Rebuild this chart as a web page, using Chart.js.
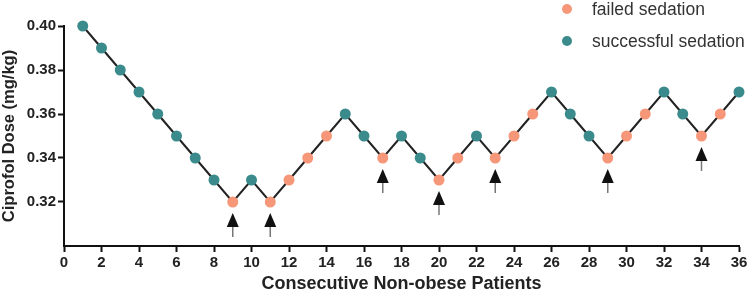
<!DOCTYPE html>
<html><head><meta charset="utf-8">
<script src="https://cdn.jsdelivr.net/npm/chart.js@4"></script>
<style>html,body{margin:0;padding:0;background:#fff}#wrap{width:750px;height:295px}</style>
</head><body><div id="wrap"><canvas id="c"></canvas></div>
<script>
const patients = [1,2,3,4,5,6,7,8,9,10,11,12,13,14,15,16,17,18,19,20,21,22,23,24,25,26,27,28,29,30,31,32,33,34,35,36];
const dose = [0.40,0.39,0.38,0.37,0.36,0.35,0.34,0.33,0.32,0.33,0.32,0.33,0.34,0.35,0.36,0.35,0.34,0.35,0.34,0.33,0.34,0.35,0.34,0.35,0.36,0.37,0.36,0.35,0.34,0.35,0.36,0.37,0.36,0.35,0.36,0.37];
const outcome = ['S','S','S','S','S','S','S','S','F','S','F','F','F','F','S','S','F','S','S','F','F','S','F','F','F','S','S','S','F','F','F','S','S','F','F','S'];
const arrowPatients = [9,11,17,20,23,29,34];
const xTicks = [0,2,4,6,8,10,12,14,16,18,20,22,24,26,28,30,32,34,36];
const yTicks = [0.32,0.34,0.36,0.38,0.40];
const legendItems = [{label:'failed sedation', key:'F'},{label:'successful sedation', key:'S'}];
const COLORS = {F:'#f7977a', S:'#3b8b8d'};

const arrowPlugin = {
  id:'arrows',
  afterDatasetsDraw(chart){
    const ctx = chart.ctx, xs = chart.scales.x, ys = chart.scales.y;
    ctx.save();
    arrowPatients.forEach(p=>{
      const i = patients.indexOf(p);
      const x = xs.getPixelForValue(p), y = ys.getPixelForValue(dose[i]);
      const tip = y+11, base = tip+14, end = base+10;
      ctx.strokeStyle='#777'; ctx.lineWidth=1.5;
      ctx.beginPath(); ctx.moveTo(x,base-1); ctx.lineTo(x,end); ctx.stroke();
      ctx.fillStyle='#111';
      ctx.beginPath(); ctx.moveTo(x,tip); ctx.lineTo(x-6,base); ctx.lineTo(x+6,base); ctx.closePath(); ctx.fill();
    });
    // legend
    ctx.font = '17.5px "Liberation Sans", Arial, sans-serif';
    ctx.textBaseline='middle'; ctx.textAlign='left';
    legendItems.forEach((it,k)=>{
      const cy = 9 + k*32;
      ctx.fillStyle = COLORS[it.key];
      ctx.beginPath(); ctx.arc(567,cy,5,0,Math.PI*2); ctx.fill();
      ctx.fillStyle='#333';
      ctx.fillText(it.label, 592, cy+1);
    });
    ctx.restore();
  }
};

new Chart(document.getElementById('c'),{
  type:'line',
  data:{datasets:[{
    data: patients.map((p,i)=>({x:p,y:dose[i]})),
    borderColor:'#222', borderWidth:2,
    pointBackgroundColor: outcome.map(o=>COLORS[o]),
    pointBorderWidth:0, pointRadius:5.5, pointHoverRadius:5.5,
    tension:0, clip:false
  }]},
  options:{
    responsive:true, maintainAspectRatio:false, animation:false,
    layout:{padding:{top:26,right:11,left:0,bottom:0}},
    plugins:{legend:{display:false},tooltip:{enabled:false}},
    scales:{
      x:{type:'linear',min:0,max:36,
        afterBuildTicks(s){s.ticks = xTicks.map(v=>({value:v}));},
        afterFit(s){s.height=49;},
        grid:{drawOnChartArea:false,tickLength:6,tickColor:'#111',tickWidth:2},
        border:{color:'#111',width:2},
        ticks:{color:'#222',font:{family:'"Liberation Sans", Arial, sans-serif',size:15,weight:'bold'},padding:2,maxRotation:0,autoSkip:false},
        title:{display:true,text:'Consecutive Non-obese Patients',color:'#222',font:{family:'"Liberation Sans", Arial, sans-serif',size:18,weight:'bold'},padding:{top:0,bottom:0}}
      },
      y:{type:'linear',min:0.30,max:0.40,
        afterBuildTicks(s){s.ticks = yTicks.map(v=>({value:v}));},
        afterFit(s){s.width=64;},
        grid:{drawOnChartArea:false,tickLength:6,tickColor:'#111',tickWidth:2},
        border:{color:'#111',width:2},
        ticks:{color:'#222',font:{family:'"Liberation Sans", Arial, sans-serif',size:15,weight:'bold'},padding:2,callback:v=>v.toFixed(2)},
        title:{display:true,text:'Ciprofol Dose (mg/kg)',color:'#222',font:{family:'"Liberation Sans", Arial, sans-serif',size:16.5,weight:'bold'},padding:{top:0,bottom:2}}
      }
    }
  },
  plugins:[arrowPlugin]
});
</script></body></html>
